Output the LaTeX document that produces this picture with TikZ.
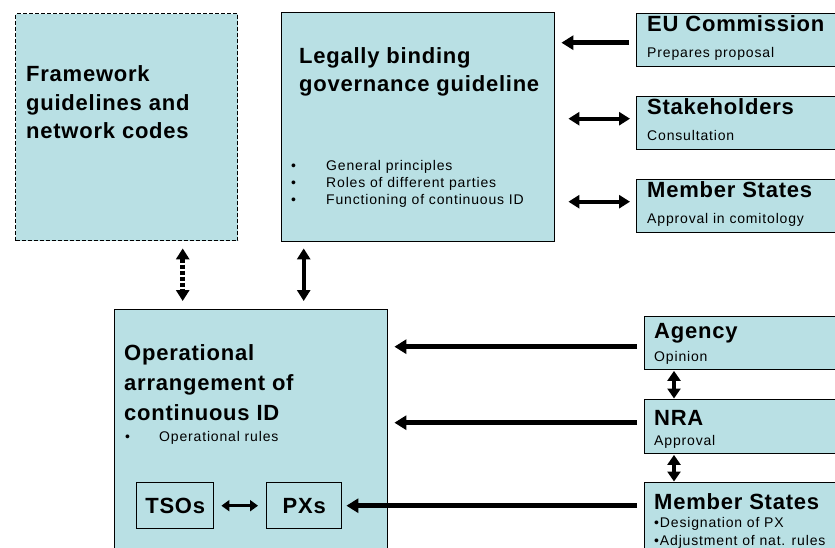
\documentclass[tikz,border=0pt]{standalone}
\usepackage{fontspec}
\setmainfont{Liberation Sans}
\newfontfamily\ttlfam[LetterSpace=3.5]{Liberation Sans}
\newfontfamily\smlfam[LetterSpace=6]{Liberation Sans}
\usetikzlibrary{arrows.meta,calc}
\definecolor{boxfill}{RGB}{185,224,228}
\begin{document}
\begin{tikzpicture}[x=1pt,y=-1pt,
  box/.style={draw=black,line width=1.4pt,fill=boxfill,inner sep=0pt,anchor=north west},
  dbox/.style={box,dash pattern=on 4pt off 2pt},
  ttl/.style={font=\ttlfam\fontsize{22}{28}\selectfont\bfseries,anchor=base west,inner sep=0pt},
  sub/.style={font=\smlfam\fontsize{14}{17}\selectfont,anchor=base west,inner sep=0pt},
  bul/.style={font=\smlfam\fontsize{14}{17}\selectfont,anchor=base west,inner sep=0pt},
  arr/.style={line width=4.5pt,-{Triangle[width=14pt,length=12pt]}},
  darr/.style={line width=4pt,{Triangle[width=13pt,length=11pt]}-{Triangle[width=13pt,length=11pt]}},
  vdarr/.style={line width=4.5pt,{Triangle[width=13pt,length=10pt]}-{Triangle[width=13pt,length=10pt]}},
  sarr/.style={line width=3.5pt,{Triangle[width=11pt,length=8pt]}-{Triangle[width=11pt,length=8pt]}}
]
\useasboundingbox (0,0) rectangle (835,548);
% boxes
\node[dbox,minimum width=222pt,minimum height=227pt] (fw) at (15,13) {};
\node[box,minimum width=273pt,minimum height=229pt] (legal) at (281,12) {};
\node[box,minimum width=210pt,minimum height=53pt] (eu) at (636,13) {};
\node[box,minimum width=210pt,minimum height=53pt] (sh) at (636,96) {};
\node[box,minimum width=210pt,minimum height=53pt] (msa) at (636,179) {};
\node[box,minimum width=273pt,minimum height=260pt] (op) at (114,309) {};
\node[box,minimum width=77pt,minimum height=46pt] (tso) at (136,482) {};
\node[box,minimum width=75pt,minimum height=46pt] (px) at (266,482) {};
\node[box,minimum width=200pt,minimum height=53pt] (ag) at (644,316) {};
\node[box,minimum width=200pt,minimum height=54pt] (nra) at (644,399) {};
\node[box,minimum width=200pt,minimum height=80pt] (msb) at (644,482) {};
% texts
\node[ttl] (fw1) at (26,82) {Framework};
\node[ttl] (fw2) at (26,111) {guidelines and};
\node[ttl] (fw3) at (26,139) {network codes};
\node[ttl] (lg1) at (299,64) {Legally binding};
\node[ttl] (lg2) at (299,92) {governance guideline};
\node[bul] (lb1) at (291,171) {•};
\node[bul] (lt1) at (326,171) {General principles};
\node[bul] (lb2) at (291,188) {•};
\node[bul] (lt2) at (326,188) {Roles of different parties};
\node[bul] (lb3) at (291,205) {•};
\node[bul] (lt3) at (326,205) {Functioning of continuous ID};
\node[ttl] (eut) at (647,32) {EU Commission};
\node[sub] (eus) at (647,58) {Prepares proposal};
\node[ttl] (sht) at (647,115) {Stakeholders};
\node[sub] (shs) at (647,141) {Consultation};
\node[ttl] (msat) at (647,198) {Member States};
\node[sub] (msas) at (647,224) {Approval in comitology};
\node[ttl] (op1) at (124,360) {Operational};
\node[ttl] (op2) at (124,390) {arrangement of};
\node[ttl] (op3) at (124,420) {continuous ID};
\node[bul] (ob) at (125,441) {•};
\node[bul] (ot) at (159,441) {Operational rules};
\node[ttl,anchor=center] (tsot) at (tso.center) {TSOs};
\node[ttl,anchor=center] (pxt) at (px.center) {PXs};
\node[ttl] (agt) at (654,338) {Agency};
\node[sub] (ags) at (654,361) {Opinion};
\node[ttl] (nrat) at (654,425) {NRA};
\node[sub] (nras) at (654,445) {Approval};
\node[ttl] (msbt) at (654,509) {Member States};
\node[sub] (msb1) at (654,527) {•Designation of PX};
\node[sub] (msb2) at (654,545) {•Adjustment of nat. rules};
% connectors
\draw[arr,shorten <=7pt,shorten >=6pt] ($(eu.west)+(0,2.5)$) -- ($(legal.east |- eu.west)+(0,2.5)$);
\draw[darr,shorten <=6pt,shorten >=13pt] ($(sh.west)+(0,-4.5)$) -- ($(legal.east |- sh.west)+(0,-4.5)$);
\draw[darr,shorten <=6pt,shorten >=13pt] ($(msa.west)+(0,-4.5)$) -- ($(legal.east |- msa.west)+(0,-4.5)$);
\draw[darr,line width=5pt,dash pattern=on 4pt off 2pt,shorten <=7pt,shorten >=8pt] ($(fw.south)+(56,0)$) -- ($(op.north -| fw.south)+(56,0)$);
\draw[darr,shorten <=6pt,shorten >=8pt] ($(legal.south)+(-114.5,0)$) -- ($(op.north -| legal.south)+(-114.5,0)$);
\draw[arr,shorten <=7pt,shorten >=6pt] ($(ag.west)+(0,3.5)$) -- ($(op.east |- ag.west)+(0,3.5)$);
\draw[arr,shorten <=7pt,shorten >=6pt] ($(nra.west)+(0,-4)$) -- ($(op.east |- nra.west)+(0,-4)$);
\draw[arr,shorten <=7pt,shorten >=4pt] (px.east -| msb.west) -- (px.east);
\draw[sarr,shorten <=7pt,shorten >=8pt] (tso.east) -- (px.west);
\draw[vdarr,shorten <=0.5pt,shorten >=0.5pt] ($(ag.south west)+(30,0)$) -- ($(nra.north west)+(30,0)$);
\draw[vdarr,shorten <=0.5pt,shorten >=0.5pt] ($(nra.south west)+(30,0)$) -- ($(msb.north west)+(30,0)$);
\end{tikzpicture}
\end{document}
